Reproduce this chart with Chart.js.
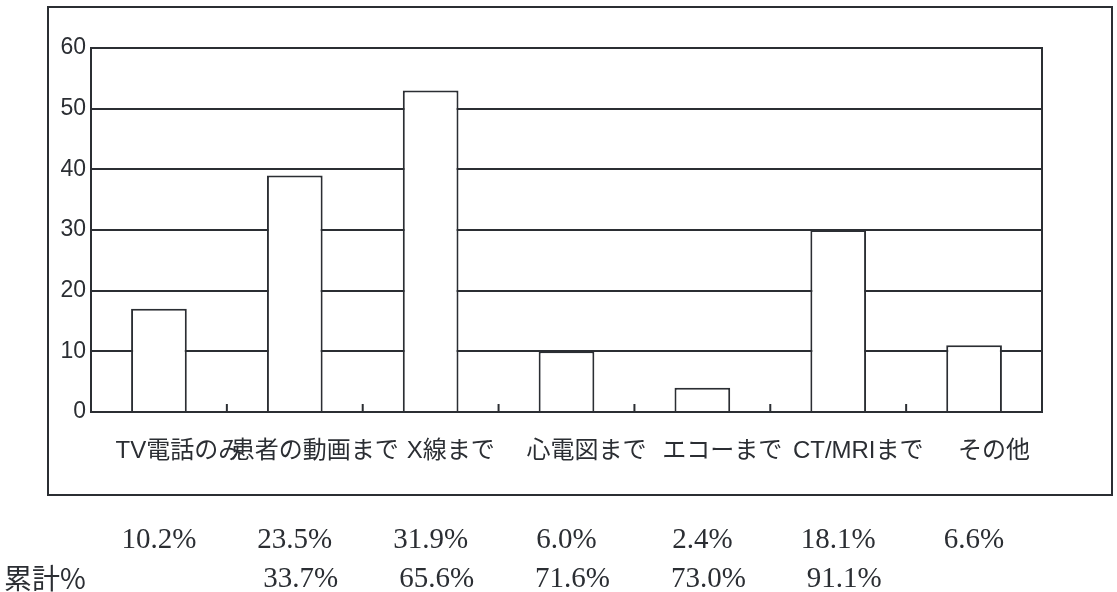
<!DOCTYPE html>
<html lang="ja">
<head>
<meta charset="utf-8">
<title>遠隔診療で送る情報</title>
<script src="https://cdn.jsdelivr.net/npm/chart.js@4.4.1/dist/chart.umd.min.js"></script>
<style>
  html, body { margin: 0; padding: 0; background: #fff; }
  #wrap { position: relative; width: 1117px; height: 592px; }
</style>
</head>
<body>
<div id="wrap"><canvas id="chart"></canvas></div>
<script>
// categories and counts
const categories = ["TV電話のみ", "患者の動画まで", "X線まで", "心電図まで", "エコーまで", "CT/MRIまで", "その他"];
const counts = [17, 39, 53, 10, 4, 30, 11];
const yTicks = [0, 10, 20, 30, 40, 50, 60];

// rows printed under the frame
const shareLabels = ["10.2%", "23.5%", "31.9%", "6.0%", "2.4%", "18.1%", "6.6%"];
const cumulativeLabels = ["", "33.7%", "65.6%", "71.6%", "73.0%", "91.1%", ""];
const cumulativeTitle = "累計%";

const ink = "#2b2e33";
const sansJa = "'Liberation Sans', 'Noto Sans CJK JP', sans-serif";

// outer frame, small ticks between categories, and the percentage rows
const framePlugin = {
  id: "frame",
  afterDatasetsDraw(chart) {
    const { ctx, chartArea, scales: { x } } = chart;
    ctx.save();
    ctx.strokeStyle = ink;
    ctx.lineWidth = 2;
    for (let i = 1; i < categories.length; i++) {
      const px = (x.getPixelForValue(i - 1) + x.getPixelForValue(i)) / 2;
      ctx.beginPath();
      ctx.moveTo(px, chartArea.bottom);
      ctx.lineTo(px, chartArea.bottom - 8);
      ctx.stroke();
    }
    ctx.restore();
  },
  afterDraw(chart) {
    const { ctx, scales: { x } } = chart;
    ctx.save();
    ctx.strokeStyle = ink;
    ctx.lineWidth = 2;
    ctx.strokeRect(48, 7, 1064, 488);

    ctx.fillStyle = ink;
    ctx.textBaseline = "middle";
    ctx.textAlign = "center";
    ctx.font = "29px 'Liberation Serif', serif";
    shareLabels.forEach((t, i) => ctx.fillText(t, x.getPixelForValue(i), 540));
    cumulativeLabels.forEach((t, i) => {
      if (t) ctx.fillText(t, x.getPixelForValue(i) + 6, 579);
    });

    ctx.textAlign = "left";
    ctx.font = "28px 'Noto Sans CJK JP', sans-serif";
    ctx.fillText(cumulativeTitle, 4, 578);
    ctx.restore();
  }
};

new Chart(document.getElementById("chart"), {
  type: "bar",
  data: {
    labels: categories,
    datasets: [{
      data: counts,
      backgroundColor: "#ffffff",
      borderColor: ink,
      borderWidth: 2,
      borderSkipped: "bottom",
      categoryPercentage: 1,
      barPercentage: 0.41
    }]
  },
  options: {
    responsive: true,
    maintainAspectRatio: false,
    animation: false,
    devicePixelRatio: 1,
    layout: { padding: { left: 51, right: 75, top: 48, bottom: 100 } },
    plugins: {
      legend: { display: false },
      tooltip: { enabled: false }
    },
    scales: {
      x: {
        grid: { display: false, drawTicks: false },
        border: { display: true, color: ink, width: 2 },
        ticks: {
          color: ink,
          font: { family: sansJa, size: 24 },
          padding: 25,
          labelOffset: 20,
          maxRotation: 0,
          autoSkip: false
        },
        afterFit: s => { s.height = 80; }
      },
      y: {
        min: 0,
        max: 60,
        afterBuildTicks: s => { s.ticks = yTicks.map(v => ({ value: v })); },
        grid: { color: ink, lineWidth: 2, drawTicks: false },
        border: { display: true, color: ink, width: 2 },
        ticks: {
          color: ink,
          font: { family: "'Liberation Sans', sans-serif", size: 23 },
          padding: 5
        },
        afterFit: s => { s.width = 40; }
      },
      y2: {
        position: "right",
        min: 0,
        max: 60,
        grid: { display: false, drawTicks: false },
        border: { display: true, color: ink, width: 2 },
        ticks: { display: false },
        afterFit: s => { s.width = 0; }
      }
    }
  },
  plugins: [framePlugin]
});
</script>
</body>
</html>
